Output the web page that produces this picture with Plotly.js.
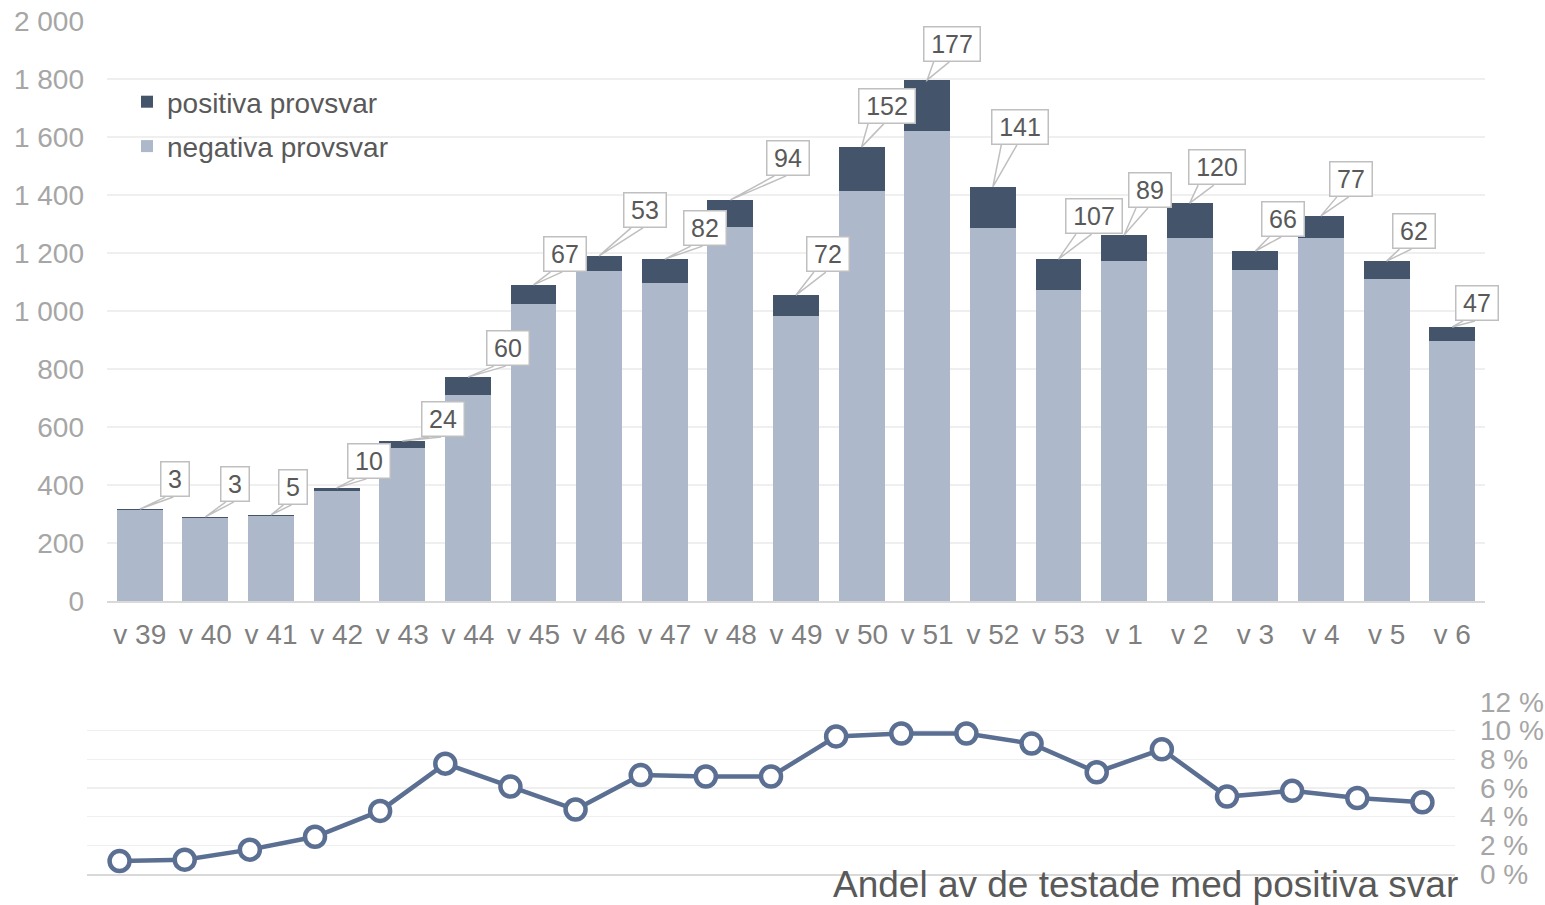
<!DOCTYPE html>
<html>
<head>
<meta charset="utf-8">
<script src="https://cdn.plot.ly/plotly-3.0.1.min.js"></script>
<style>
    html, body { margin: 0; padding: 0; background: #fff; }
    #chart { width: 1545px; height: 905px; }
</style>
</head>
<body>
<div id="chart"></div>
<script>
// Provsvar per vecka
const weeks = ['v 39', 'v 40', 'v 41', 'v 42', 'v 43', 'v 44', 'v 45', 'v 46', 'v 47', 'v 48', 'v 49',
    'v 50', 'v 51', 'v 52', 'v 53', 'v 1', 'v 2', 'v 3', 'v 4', 'v 5', 'v 6'];
const negativa = [314, 287, 292, 380, 528, 712, 1023, 1137, 1097, 1289, 983,
    1414, 1620, 1287, 1072, 1173, 1252, 1141, 1251, 1110, 898];
const positiva = [3, 3, 5, 10, 24, 60, 67, 53, 82, 94, 72,
    152, 177, 141, 107, 89, 120, 66, 77, 62, 47];
// Andel positiva (%)
const andelPositiva = [0.9, 1.0, 1.7, 2.6, 4.4, 7.7, 6.1, 4.5, 6.9, 6.8, 6.8,
    9.6, 9.8, 9.8, 9.1, 7.1, 8.7, 5.4, 5.8, 5.3, 5.0];

// Callout box centre, offset from the bar top in pixels (right, up)
const calloutOffsets = [[35, 30], [30, 33], [22, 28], [32, 27], [41, 22], [40, 29], [31, 31],
    [46, 46], [40, 31], [58, 42], [32, 41], [25, 41], [25, 36], [27, 60], [36, 43],
    [26, 45], [27, 36], [28, 32], [30, 37], [27, 30], [25, 24]];

const FONT = 'Liberation Sans, Arial, sans-serif';
const DARK = '#44546a';
const LIGHT = '#adb9ca';
const LINE = '#5a6f92';
const GRID = '#efefef';

const totals = negativa.map((v, i) => v + positiva[i]);

// Callouts: bordered box (annotation) + wedge pointing at the bar top (shape)
const annotations = [];
const shapes = [];
positiva.forEach(function(p, i) {
    const txt = String(p);
    const dx = calloutOffsets[i][0];
    const dy = calloutOffsets[i][1];
    const innerW = 14 * txt.length + 7;
    const outerW = innerW + 9;
    const outerH = 36;
    annotations.push({
        x: weeks[i], y: totals[i], xref: 'x', yref: 'y',
        text: txt, showarrow: false,
        xshift: dx, yshift: dy,
        xanchor: 'center', yanchor: 'middle',
        width: innerW, height: 27,
        bgcolor: '#ffffff', bordercolor: '#bfbfbf', borderwidth: 1.5, borderpad: 3,
        font: { family: FONT, size: 25, color: '#595959' }
    });
    const yb = dy - outerH / 2;
    const x1 = dx - 0.32 * outerW;
    const x2 = dx - 0.05 * outerW;
    shapes.push({
        type: 'path', xref: 'x', yref: 'y',
        xsizemode: 'pixel', ysizemode: 'pixel',
        xanchor: weeks[i], yanchor: totals[i],
        path: 'M' + x1 + ',' + yb + ' L0,0 L' + x2 + ',' + yb,
        fillcolor: '#ffffff',
        line: { color: '#bfbfbf', width: 1.5 },
        layer: 'above'
    });
});

annotations.push({
    xref: 'paper', yref: 'paper',
    x: 1460 / 1545, y: (905 - 884) / 905,
    xanchor: 'right', yanchor: 'middle',
    text: 'Andel av de testade med positiva svar',
    showarrow: false,
    font: { family: FONT, size: 37, color: '#595959' }
});

const traces = [{
    x: weeks, y: negativa, type: 'bar', name: 'negativa provsvar',
    legendgroup: 'neg', legendrank: 2,
    marker: { color: LIGHT }, xaxis: 'x', yaxis: 'y', hoverinfo: 'y'
}, {
    x: weeks, y: positiva, type: 'bar', name: 'positiva provsvar',
    legendgroup: 'pos', legendrank: 1,
    marker: { color: DARK }, xaxis: 'x', yaxis: 'y', hoverinfo: 'y'
}, {
    x: weeks, y: andelPositiva, type: 'scatter', mode: 'lines+markers',
    name: 'Andel positiva', showlegend: false,
    line: { color: LINE, width: 4.5 },
    marker: { symbol: 'circle', size: 20, color: '#ffffff', line: { color: LINE, width: 4.5 } },
    cliponaxis: false,
    xaxis: 'x2', yaxis: 'y2'
}];

const layout = {
    width: 1545, height: 905,
    margin: { l: 0, r: 0, t: 0, b: 0 },
    paper_bgcolor: '#ffffff', plot_bgcolor: '#ffffff',
    font: { family: FONT, color: '#595959' },
    barmode: 'stack', bargap: 0.3,
    separators: ', ',
    showlegend: true,
    legend: {
        x: 127 / 1545, y: (905 - 77) / 905, xanchor: 'left', yanchor: 'top',
        traceorder: 'grouped', tracegroupgap: 5, itemwidth: 30,
        bgcolor: 'rgba(0,0,0,0)',
        font: { family: FONT, size: 28, color: '#595959' }
    },
    xaxis: {
        domain: [107 / 1545, 1485 / 1545], anchor: 'y',
        type: 'category', range: [-0.5, 20.5],
        showgrid: false, showline: true, linecolor: '#d9d9d9', linewidth: 1.5,
        ticks: '', ticklabelstandoff: 8,
        tickfont: { family: FONT, size: 28, color: '#7f7f7f' }
    },
    yaxis: {
        domain: [304 / 905, 884 / 905], anchor: 'x',
        range: [0, 2000], dtick: 200, separatethousands: true,
        gridcolor: GRID, gridwidth: 1.5, zeroline: false, showline: false,
        ticks: '', ticklabelstandoff: 22,
        tickfont: { family: FONT, size: 28, color: '#a6a6a6' }
    },
    xaxis2: {
        domain: [87 / 1545, 1455 / 1545], anchor: 'y2',
        type: 'category', range: [-0.5, 20.5],
        showgrid: false, showline: true, linecolor: '#d9d9d9', linewidth: 1.5,
        showticklabels: false, ticks: ''
    },
    yaxis2: {
        domain: [31 / 905, 203 / 905], anchor: 'x2', side: 'right',
        range: [0, 12], dtick: 2, ticksuffix: ' %',
        gridcolor: GRID, gridwidth: 1.5, zeroline: false, showline: false,
        ticks: '', ticklabelstandoff: 24,
        tickfont: { family: FONT, size: 28, color: '#a6a6a6' }
    },
    annotations: annotations,
    shapes: shapes
};

Plotly.newPlot('chart', traces, layout, { displayModeBar: false, staticPlot: true });
</script>
</body>
</html>
